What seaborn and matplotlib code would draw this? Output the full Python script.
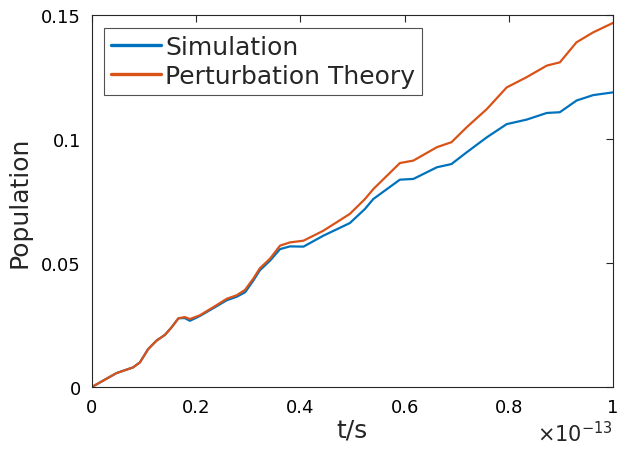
import numpy as np
import pandas as pd
import seaborn as sns
import matplotlib.pyplot as plt
from matplotlib.ticker import FuncFormatter

# time in units of 1e-13 s
t = [0.000, 0.047, 0.079, 0.092, 0.108, 0.124, 0.140, 0.153, 0.166, 0.178,
     0.188, 0.207, 0.233, 0.259, 0.278, 0.294, 0.310, 0.322, 0.342, 0.361,
     0.380, 0.406, 0.444, 0.495, 0.524, 0.540, 0.591, 0.617, 0.662, 0.690,
     0.719, 0.758, 0.796, 0.834, 0.873, 0.898, 0.930, 0.962, 1.000]
simulacao = [0.0, 0.0056, 0.0079, 0.0099, 0.0153, 0.0187, 0.0210, 0.0241, 0.0277, 0.0278,
             0.0267, 0.0286, 0.0318, 0.0350, 0.0364, 0.0382, 0.0430, 0.0470, 0.0510, 0.0556,
             0.0567, 0.0566, 0.0610, 0.0661, 0.0718, 0.0758, 0.0836, 0.0839, 0.0886, 0.0899,
             0.0946, 0.1007, 0.1060, 0.1078, 0.1105, 0.1108, 0.1155, 0.1177, 0.1188]
perturbacao = [0.0, 0.0056, 0.0079, 0.0099, 0.0153, 0.0187, 0.0210, 0.0241, 0.0277, 0.0282,
               0.0274, 0.0289, 0.0322, 0.0356, 0.0370, 0.0392, 0.0438, 0.0478, 0.0518, 0.0570,
               0.0583, 0.0590, 0.0630, 0.0698, 0.0758, 0.0798, 0.0903, 0.0913, 0.0967, 0.0987,
               0.1047, 0.1121, 0.1208, 0.1249, 0.1296, 0.1309, 0.1390, 0.1430, 0.1468]
nomes = ["Simulation", "Perturbation Theory"]
cores = ["#0072BD", "#D95319"]

dados = pd.DataFrame({
    "t": np.array(t * 2) * 1e-13,
    "Population": simulacao + perturbacao,
    "Serie": [nomes[0]] * len(t) + [nomes[1]] * len(t),
})

sns.set_style("white")
plt.rcParams["font.family"] = ["DejaVu Sans"]
plt.rcParams["mathtext.fontset"] = "dejavusans"

fig = plt.figure(figsize=(6.17, 4.52), dpi=100)
ax = fig.add_axes([0.149, 0.1416, 0.8445, 0.823])

sns.lineplot(data=dados, x="t", y="Population", hue="Serie",
             palette=dict(zip(nomes, cores)), linewidth=1.6, ax=ax, legend=False)

ax.set_xlim(0, 1e-13)
ax.set_ylim(0, 0.15)
ax.set_xticks(np.arange(0, 1.01, 0.2) * 1e-13)
ax.set_yticks([0, 0.05, 0.1, 0.15])
ax.xaxis.set_major_formatter(FuncFormatter(lambda v, p: f"{v / 1e-13:g}"))
ax.yaxis.set_major_formatter(FuncFormatter(lambda v, p: f"{v:g}"))
ax.tick_params(direction="in", length=5, width=0.8, top=True, right=True,
               labelsize=13, colors="#262626", labelcolor="black", pad=8)
for s in ax.spines.values():
    s.set_color("#262626")
    s.set_linewidth(0.8)

ax.set_xlabel("t/s", fontsize=18, labelpad=1)
ax.set_ylabel("Population", fontsize=18, labelpad=7)
ax.annotate(r"$\times10^{-13}$", xy=(1, 0), xycoords="axes fraction",
            xytext=(0, -33), textcoords="offset points", ha="right", va="center",
            fontsize=15)

linhas = [plt.Line2D([], [], color=c, linewidth=2.4) for c in cores]
leg = ax.legend(linhas, nomes, loc="upper left", fontsize=18, frameon=True,
                fancybox=False, edgecolor="#262626", handlelength=2.0,
                handletextpad=0.15, labelspacing=0.22, borderpad=0.28,
                borderaxespad=0.5)
leg.get_frame().set_linewidth(0.8)

fig.savefig("out.png", dpi=100)
